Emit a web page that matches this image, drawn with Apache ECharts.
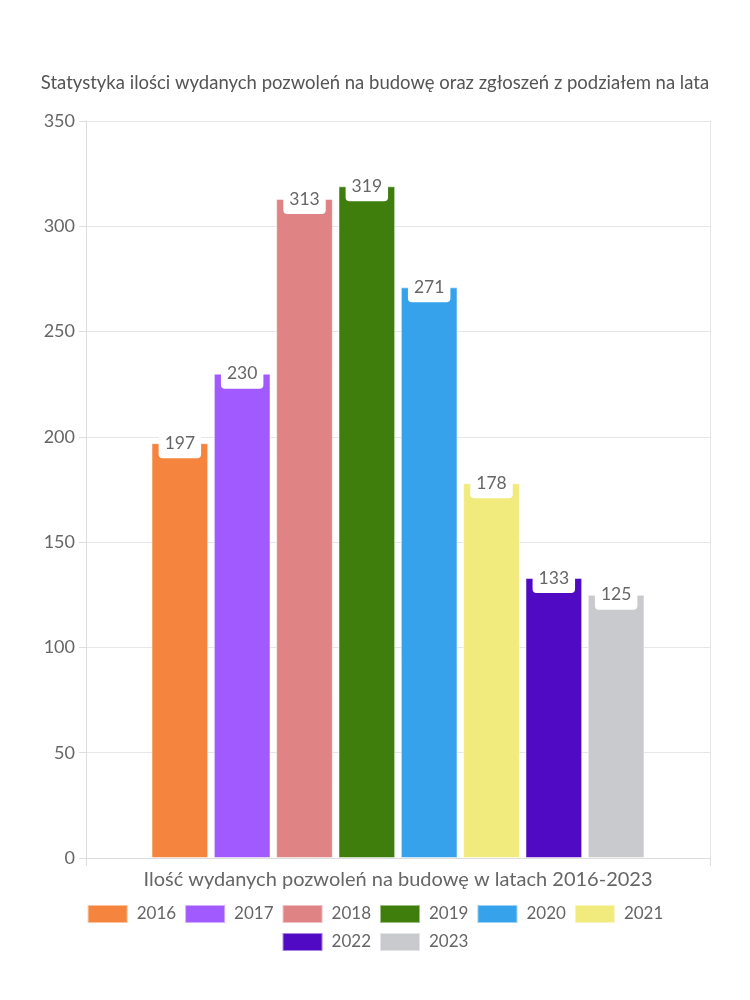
<!DOCTYPE html>
<html><head><meta charset="utf-8">
<script src="https://cdn.jsdelivr.net/npm/echarts@6/dist/echarts.min.js"></script>
<style>html,body{margin:0;padding:0;background:#fff}#c{width:750px;height:1000px}</style>
</head><body><div id="c"></div>
<script>
const titleText = 'Statystyka ilości wydanych pozwoleń na budowę oraz zgłoszeń z podziałem na lata';
const axisName = 'Ilość wydanych pozwoleń na budowę w latach 2016-2023';
const categories = [''];
const years = ['2016','2017','2018','2019','2020','2021','2022','2023'];
const values = [197, 230, 313, 319, 271, 178, 133, 125];
const colors = ['#F5843F','#A05AFE','#E08384','#3F7D0C','#36A2EB','#F0EB7C','#510AC4','#C9CACE'];
const yTicks = {min: 0, max: 350, interval: 50};

const FONT = 'Lato';
const series = years.map((y, i) => ({
  name: y, type: 'bar', data: [values[i]],
  itemStyle: {color: colors[i], borderColor: 'rgba(255,255,255,0.5)', borderWidth: 1},
  barGap: '10%', barCategoryGap: '21%',
  label: {
    show: true, position: 'top', distance: 0, offset: [0, 15],
    backgroundColor: '#fff', borderRadius: 4,
    padding: [5, 6, 5, 6], color: '#666', fontSize: 17.5, fontFamily: FONT, lineHeight: 20
  }
}));
const legendBase = {
  left: 'center', orient: 'horizontal', icon: 'rect',
  itemWidth: 40, itemHeight: 18, itemGap: 8,
  textStyle: {color: '#666', fontSize: 17, fontFamily: FONT, padding: [0, 0, 0, 4]}
};
const chart = echarts.init(document.getElementById('c'), null, {renderer: 'canvas'});
chart.setOption({
  animation: false,
  color: colors,
  title: {text: titleText, left: 'center', top: 69,
    textStyle: {color: '#555', fontSize: 18.5, fontWeight: 'normal', fontFamily: FONT}},
  legend: [
    Object.assign({}, legendBase, {top: 899, data: years.slice(0, 6)}),
    Object.assign({}, legendBase, {top: 927, data: years.slice(6)})
  ],
  grid: {left: 86, right: 40, top: 121, bottom: 142, containLabel: false},
  xAxis: {
    type: 'category', data: categories,
    name: axisName, nameLocation: 'middle', nameGap: 12,
    nameTextStyle: {color: '#666', fontSize: 20, fontFamily: FONT, verticalAlign: 'top'},
    axisLine: {show: true, lineStyle: {color: '#ddd'}},
    axisTick: {show: true, length: 8, lineStyle: {color: '#ddd'}},
    axisLabel: {show: false},
    splitLine: {show: true, lineStyle: {color: '#e6e6e6'}}
  },
  yAxis: {
    type: 'value', min: yTicks.min, max: yTicks.max, interval: yTicks.interval,
    axisLine: {show: true, lineStyle: {color: '#ddd'}},
    axisTick: {show: true, length: 7, lineStyle: {color: '#ddd'}},
    axisLabel: {color: '#666', fontSize: 18, fontFamily: FONT, margin: 11},
    splitLine: {show: true, lineStyle: {color: '#e6e6e6'}}
  },
  series: series
});
</script></body></html>
